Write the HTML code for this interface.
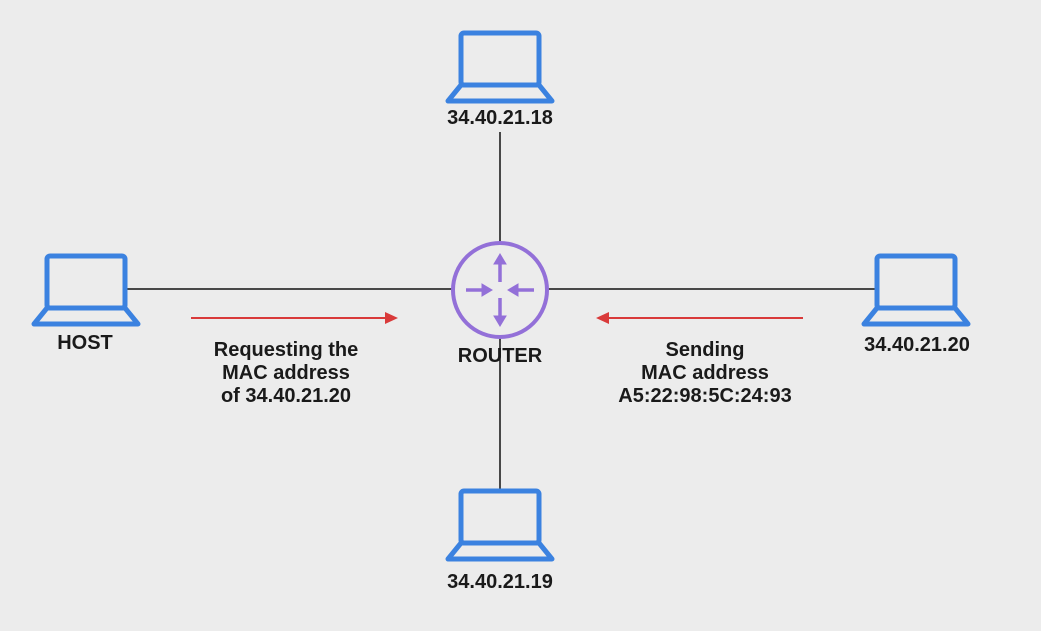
<!DOCTYPE html>
<html><head><meta charset="utf-8"><style>
html,body{margin:0;padding:0;background:#ececec;}
svg{display:block}
text{font-family:"Liberation Sans",sans-serif;font-weight:bold;font-size:20px;fill:#1a1a1a;text-anchor:middle}
</style></head><body>
<svg width="1041" height="631" viewBox="0 0 1041 631" xmlns="http://www.w3.org/2000/svg">
<defs>
<g id="lap" fill="none" stroke="#3b82e0" stroke-width="5" stroke-linejoin="round">
<rect x="0" y="0" width="78" height="52" rx="3"/>
<path d="M0 52 L-13 68 L91 68 L78 52 Z"/>
</g>
</defs>
<rect width="1041" height="631" fill="#ececec"/>
<g stroke="#111" stroke-width="1.5">
<line x1="125" y1="289" x2="452" y2="289"/>
<line x1="548" y1="289" x2="877" y2="289"/>
<line x1="500" y1="132" x2="500" y2="242"/>
<line x1="500" y1="338" x2="500" y2="490"/>
</g>
<use href="#lap" x="461" y="33"/>
<use href="#lap" x="47" y="256"/>
<use href="#lap" x="877" y="256"/>
<use href="#lap" x="461" y="491"/>
<circle cx="500" cy="290" r="47" fill="none" stroke="#9370d8" stroke-width="4"/>
<g stroke="#9370d8" stroke-width="3.5" fill="#9370d8">
<line x1="500" y1="282" x2="500" y2="262"/><path d="M494 264 L500 254 L506 264 Z" stroke-width="1"/>
<line x1="500" y1="298" x2="500" y2="318"/><path d="M494 316 L500 326 L506 316 Z" stroke-width="1"/>
<line x1="466" y1="290" x2="484" y2="290"/><path d="M482 284 L492 290 L482 296 Z" stroke-width="1"/>
<line x1="534" y1="290" x2="516" y2="290"/><path d="M518 284 L508 290 L518 296 Z" stroke-width="1"/>
</g>
<g stroke="#d93a3a" stroke-width="2" fill="#d93a3a">
<line x1="191" y1="318" x2="386" y2="318"/><path d="M385 312 L398 318 L385 324 Z" stroke-width="0"/>
<line x1="803" y1="318" x2="608" y2="318"/><path d="M609 312 L596 318 L609 324 Z" stroke-width="0"/>
</g>
<text x="500" y="124">34.40.21.18</text>
<text x="85" y="349">HOST</text>
<text x="500" y="362">ROUTER</text>
<text x="917" y="351">34.40.21.20</text>
<text x="500" y="588">34.40.21.19</text>
<text x="286" y="356">Requesting the</text>
<text x="286" y="379">MAC address</text>
<text x="286" y="402">of 34.40.21.20</text>
<text x="705" y="356">Sending</text>
<text x="705" y="379">MAC address</text>
<text x="705" y="402">A5:22:98:5C:24:93</text>
</svg>
</body></html>
